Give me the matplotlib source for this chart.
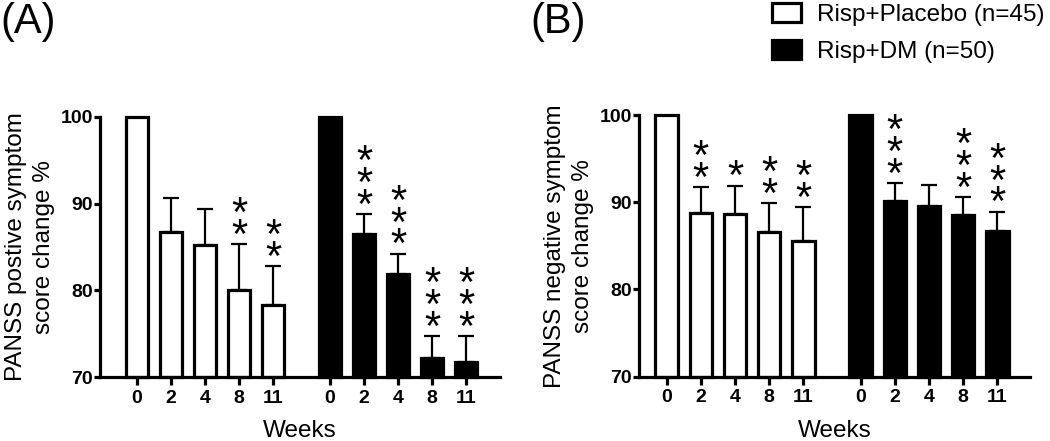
import numpy as np
import matplotlib.pyplot as plt
from matplotlib.patches import Patch

plt.rcParams['font.family'] = ['Liberation Sans', 'DejaVu Sans']

# Data
weeks = ['0', '2', '4', '8', '11']

pos_placebo = [100, 86.7, 85.2, 80.0, 78.3]
pos_placebo_err = [0, 3.9, 4.2, 5.3, 4.5]
pos_dm = [100, 86.5, 81.9, 72.2, 71.7]
pos_dm_err = [0, 2.3, 2.3, 2.5, 3.0]
pos_placebo_sig = ['', '', '', '**', '**']
pos_dm_sig = ['', '***', '***', '***', '***']

neg_placebo = [100, 88.8, 88.7, 86.6, 85.6]
neg_placebo_err = [0, 2.9, 3.2, 3.3, 3.8]
neg_dm = [100, 90.1, 89.6, 88.5, 86.7]
neg_dm_err = [0, 2.1, 2.4, 2.1, 2.2]
neg_placebo_sig = ['', '**', '*', '**', '**']
neg_dm_sig = ['', '***', '', '***', '***']

labels = ['Risp+Placebo (n=45)', 'Risp+DM (n=50)']

x1 = np.arange(5)
x2 = x1 + 5.68
lw = 2.3
base = 70


def draw_panel(ax, placebo, placebo_err, placebo_sig, dm, dm_err, dm_sig, ylabel, xlim):
    for xs, vals, errs, sigs, fc in [(x1, placebo, placebo_err, placebo_sig, 'white'),
                                     (x2, dm, dm_err, dm_sig, 'black')]:
        vals = np.array(vals)
        errs = np.array(errs)
        ax.bar(xs, vals - base, bottom=base, width=0.66, color=fc,
               edgecolor='black', linewidth=lw, clip_on=False, zorder=2)
        ax.errorbar(xs[1:], vals[1:], yerr=[np.zeros(4), errs[1:]], fmt='none',
                    ecolor='black', elinewidth=1.6, capsize=6, capthick=1.6, zorder=1)
        # significance stars stacked above the error bar
        for x, v, e, s in zip(xs, vals, errs, sigs):
            if s:
                ax.annotate('\n'.join(s), xy=(x, v + e), xytext=(0, -9),
                            textcoords='offset points', ha='center', va='bottom',
                            fontsize=30, linespacing=0.41)

    ax.set_ylim(70, 100)
    ax.set_xlim(*xlim)
    ax.set_yticks([70, 80, 90, 100])
    ax.set_xticks(np.concatenate([x1, x2]))
    ax.set_xticklabels(weeks + weeks)
    for t in ax.get_xticklabels() + ax.get_yticklabels():
        t.set_fontweight('bold')
    ax.tick_params(axis='y', length=4, width=lw, pad=1, labelsize=14)
    ax.tick_params(axis='x', length=6, width=lw, pad=3, labelsize=14)
    ax.spines['top'].set_visible(False)
    ax.spines['right'].set_visible(False)
    ax.spines['left'].set_linewidth(lw)
    ax.spines['bottom'].set_linewidth(lw)
    ax.set_xlabel('Weeks', fontsize=17.5, labelpad=10)
    ax.set_ylabel(ylabel, fontsize=17.5, labelpad=4, linespacing=1.35)


fig = plt.figure(figsize=(10.5, 4.41), dpi=100)
ax1 = fig.add_axes([0.0952, 0.1451, 0.381, 0.5896])
ax2 = fig.add_axes([0.6086, 0.1458, 0.3724, 0.5934])

draw_panel(ax1, pos_placebo, pos_placebo_err, pos_placebo_sig, pos_dm, pos_dm_err, pos_dm_sig,
           'PANSS postive symptom\nscore change %', (-1.09, 10.68))
draw_panel(ax2, neg_placebo, neg_placebo_err, neg_placebo_sig, neg_dm, neg_dm_err, neg_dm_sig,
           'PANSS negative symptom\nscore change %', (-0.81, 10.64))

fig.text(0.0, 0.995, '(A)', fontsize=30, ha='left', va='top')
fig.text(0.505, 0.995, '(B)', fontsize=30, ha='left', va='top')

handles = [Patch(facecolor='white', edgecolor='black', linewidth=lw),
           Patch(facecolor='black', edgecolor='black', linewidth=lw)]
fig.legend(handles, labels, loc='upper left', bbox_to_anchor=(0.735, 0.993),
           frameon=False, fontsize=17.5, handlelength=1.2, handleheight=0.8,
           handletextpad=0.65, labelspacing=0.6, borderpad=0, borderaxespad=0)

plt.savefig('out.png', dpi=100)
